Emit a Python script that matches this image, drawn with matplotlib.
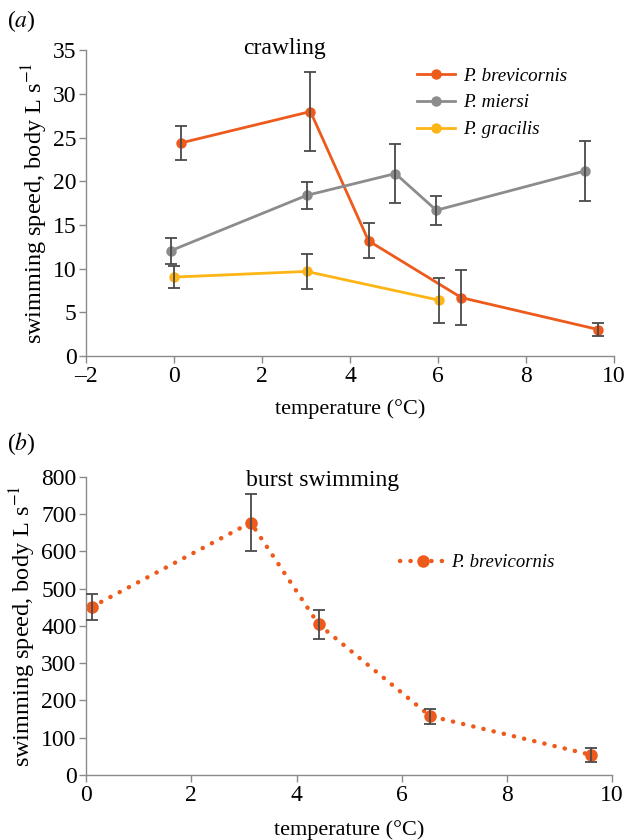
import matplotlib
matplotlib.use("Agg")
import matplotlib.pyplot as plt

plt.rcParams["font.family"] = ["Liberation Serif", "DejaVu Serif"]
plt.rcParams["mathtext.fontset"] = "stix"

# panel (a) crawling
brev_x = [0.15, 3.10, 4.42, 6.53, 9.64]
brev_y = [24.4, 28.0, 13.2, 6.7, 3.05]
brev_err = [1.9, 4.5, 2.0, 3.15, 0.75]

miersi_x = [-0.08, 3.01, 5.03, 5.96, 9.34]
miersi_y = [12.06, 18.4, 20.9, 16.7, 21.2]
miersi_err = [1.5, 1.5, 3.4, 1.65, 3.4]

grac_x = [0.0, 3.01, 6.03]
grac_y = [9.05, 9.7, 6.4]
grac_err = [1.25, 2.05, 2.55]

# panel (b) burst swimming
burst_x = [0.11, 3.13, 4.42, 6.54, 9.60]
burst_y = [451, 677, 404, 158, 54]
burst_err = [34, 77, 39, 20, 19]

c_orange = "#EE5A1B"
c_gray = "#8C8C8C"
c_yellow = "#FDB515"
c_err = "#4A4A4A"
c_axis = "#8A8A8A"

fig = plt.figure(figsize=(6.24, 8.4), dpi=100)
ax1 = fig.add_axes([0.138, 0.576, 0.846, 0.364])
ax2 = fig.add_axes([0.138, 0.0774, 0.843, 0.3551])


def style_axis(ax):
    for s in ["top", "right"]:
        ax.spines[s].set_visible(False)
    for s in ["left", "bottom"]:
        ax.spines[s].set_color(c_axis)
        ax.spines[s].set_linewidth(1.0)
    ax.tick_params(colors=c_axis, labelcolor="black", labelsize=17, length=5, width=1.0, pad=2)


for x, y, e, c, lab in [(brev_x, brev_y, brev_err, c_orange, "P. brevicornis"),
                        (miersi_x, miersi_y, miersi_err, c_gray, "P. miersi"),
                        (grac_x, grac_y, grac_err, c_yellow, "P. gracilis")]:
    ax1.plot(x, y, "-o", color=c, lw=2, ms=6.5, label=lab, zorder=2)
    ax1.errorbar(x, y, yerr=e, fmt="none", ecolor=c_err, elinewidth=1.3, capsize=4, capthick=1.3, zorder=3)

ax1.set_xlim(-2, 10)
ax1.set_ylim(0, 35)
ax1.set_xticks(range(-2, 11, 2))
ax1.set_xticklabels(["\u20132", "0", "2", "4", "6", "8", "10"])
ax1.set_yticks(range(0, 36, 5))
style_axis(ax1)
ax1.set_xlabel("temperature (\u00b0C)", fontsize=16, labelpad=9)
ax1.set_ylabel("swimming speed, body L s$^{-1}$", fontsize=17.5, labelpad=2)
ax1.text(2.5, 35.2, "crawling", fontsize=17, ha="center", va="center", clip_on=False)
ax1.legend(loc="upper left", bbox_to_anchor=(0.612, 0.97), frameon=False,
           prop={"style": "italic", "size": 13.7}, handlelength=2.0,
           handletextpad=0.45, labelspacing=0.5, borderaxespad=0)

ax2.plot(burst_x, burst_y, linestyle=(0, (0.05, 2.3)), dash_capstyle="round",
         marker="o", color=c_orange, lw=3.2, ms=8, label="P. brevicornis", zorder=2)
ax2.errorbar(burst_x, burst_y, yerr=burst_err, fmt="none", ecolor=c_err,
             elinewidth=1.3, capsize=4, capthick=1.3, zorder=3)
ax2.set_xlim(0, 10)
ax2.set_ylim(0, 800)
ax2.set_xticks(range(0, 11, 2))
ax2.set_yticks(range(0, 801, 100))
style_axis(ax2)
ax2.set_xlabel("temperature (\u00b0C)", fontsize=16, labelpad=10)
ax2.set_ylabel("swimming speed, body L s$^{-1}$", fontsize=17.5, labelpad=2)
ax2.text(4.5, 791, "burst swimming", fontsize=17, ha="center", va="center", clip_on=False)
ax2.legend(loc="upper left", bbox_to_anchor=(0.583, 0.765), frameon=False,
           prop={"style": "italic", "size": 13.5}, handlelength=2.4,
           handletextpad=0.3, borderaxespad=0)

fig.text(0.012, 0.975, "($\\mathit{a}$)", fontsize=17, va="center")
fig.text(0.012, 0.472, "($\\mathit{b}$)", fontsize=17, va="center")

fig.savefig("out.png", dpi=100)
